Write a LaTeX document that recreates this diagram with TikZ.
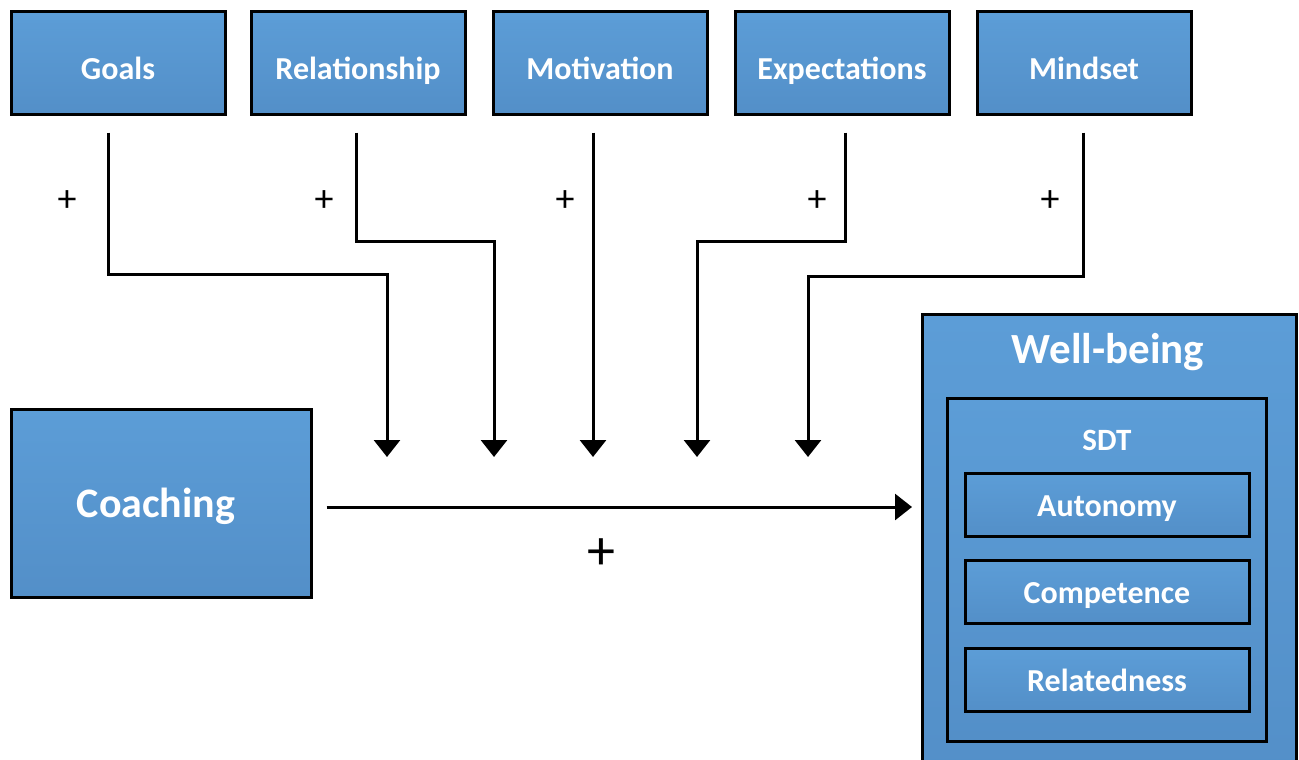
\documentclass[tikz,border=0pt]{standalone}
\usepackage{fontspec}
\setmainfont{Carlito}
\usetikzlibrary{arrows.meta,positioning}
\definecolor{boxtop}{RGB}{92,157,215}
\definecolor{boxbot}{RGB}{83,143,200}
\tikzset{
  factor/.style={draw=black, line width=3pt, top color=boxtop, bottom color=boxbot,
    minimum width=214pt, minimum height=102pt, inner sep=0pt, text=white,
    text height=34pt, text depth=0pt,
    font=\fontsize{32}{36}\selectfont\bfseries},
  need/.style={factor, minimum width=284pt, minimum height=63pt, text height=22pt},
  link/.style={line width=3pt, -{Triangle[width=26pt,length=17pt]}},
  plus/.style={font=\fontsize{38}{40}\selectfont}
}
\begin{document}
\begin{tikzpicture}[x=1pt,y=-1pt]
\useasboundingbox (0,0) rectangle (1299,760);
\clip (0,0) rectangle (1299,760);
% moderators on top
\node[factor] (goals) at (118,63) {Goals};
\node[factor] (relation) at (358,63) {Relationship};
\node[factor] (motiv) at (600,63) {Motivation};
\node[factor] (expect) at (842,63) {Expectations};
\node[factor] (mind) at (1084,63) {Mindset};
% left and right blocks
\node[factor, minimum width=300pt, minimum height=188pt] (coach) at (161,503) {};
\node[font=\fontsize{42}{48}\selectfont\bfseries, text=white, anchor=base] (coachtext) at (156,517) {Coaching};
\node[factor, minimum width=374pt, minimum height=470pt, anchor=north] (well) at (1109,313) {};
\node[font=\fontsize{43}{48}\selectfont\bfseries, text=white, anchor=base] (welltitle) at (1108,363) {Well-being};
\node[factor, minimum width=319pt, minimum height=343pt, anchor=north] (sdt) at (1107,397) {};
\node[font=\fontsize{31}{36}\selectfont\bfseries, text=white, anchor=base] (sdttitle) at (1107,450) {SDT};
\node[need] (auto) at (1107,505) {Autonomy};
\node[need] (comp) at (1107,592) {Competence};
\node[need] (relat) at (1107,680) {Relatedness};
% arrow ends
\coordinate (inA) at (387,457);
\coordinate (inB) at (494,457);
\coordinate (inC) at (593,457);
\coordinate (inD) at (697,457);
\coordinate (inE) at (808,457);
\coordinate (wbin) at (912,507);
% connectors
\draw[link] ([xshift=-10pt,yshift=-17pt]goals.south) -- ++(0,142) -| (inA);
\draw[link] ([xshift=-2pt,yshift=-17pt]relation.south) -- ++(0,109) -| (inB);
\draw[link] ([xshift=-7pt,yshift=-17pt]motiv.south) -- (inC);
\draw[link] ([xshift=3pt,yshift=-17pt]expect.south) -- ++(0,109) -| (inD);
\draw[link] ([xshift=-1pt,yshift=-17pt]mind.south) -- ++(0,144) -| (inE);
\draw[link] ([xshift=14pt,yshift=-4pt]coach.east) -- (wbin);
% signs
\node[plus] (pA) at (67,201) {+};
\node[plus] (pB) at (324,201) {+};
\node[plus] (pC) at (565,201) {+};
\node[plus] (pD) at (817,201) {+};
\node[plus] (pE) at (1050,201) {+};
\node[font=\fontsize{56}{60}\selectfont] (pmain) at (601,554) {+};
\end{tikzpicture}
\end{document}
